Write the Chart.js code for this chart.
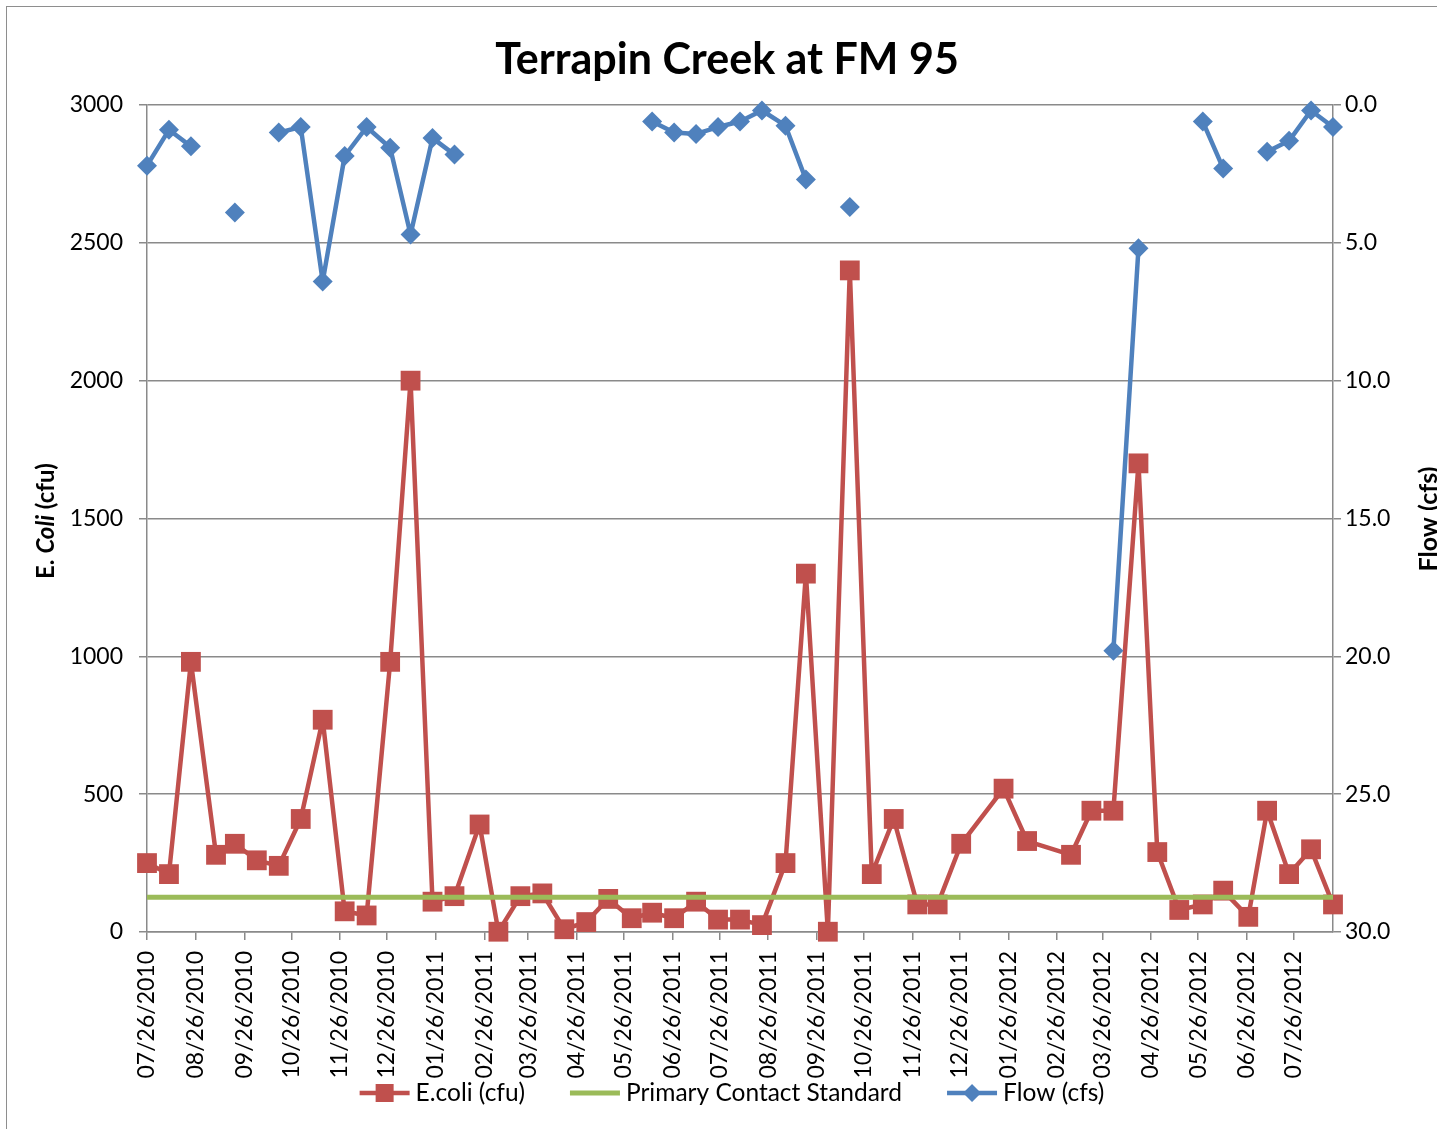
<!DOCTYPE html>
<html>
<head>
<meta charset="utf-8">
<script src="https://cdn.jsdelivr.net/npm/chart.js@4.4.0/dist/chart.umd.min.js"></script>
<style>
  html, body { margin: 0; padding: 0; background: #fff; overflow: hidden; }
  #frame { position: absolute; left: 6px; top: 6px; width: 1500px; height: 1200px; border: 1.5px solid #8e8e8e; }
  #wrap { position: absolute; left: 0; top: 0; width: 1437px; height: 1129px; }
</style>
</head>
<body>
<div id="frame"></div>
<div id="wrap"><canvas id="chart" width="1437" height="1129"></canvas></div>
<script>
// sampling dates (mm/dd/yyyy)
const sampleDates = [
  '2010-07-26', '2010-08-09', '2010-08-23', '2010-09-08', '2010-09-20', '2010-10-04', '2010-10-18',
  '2010-11-01', '2010-11-15', '2010-11-29', '2010-12-13', '2010-12-28', '2011-01-10', '2011-01-24',
  '2011-02-07', '2011-02-23', '2011-03-07', '2011-03-21', '2011-04-04', '2011-04-18', '2011-05-02',
  '2011-05-16', '2011-05-31', '2011-06-13', '2011-06-27', '2011-07-11', '2011-07-25', '2011-08-08',
  '2011-08-22', '2011-09-06', '2011-09-19', '2011-10-03', '2011-10-17', '2011-10-31', '2011-11-14',
  '2011-11-29', '2011-12-12', '2011-12-27', '2012-01-23', '2012-02-07', '2012-03-06', '2012-03-19',
  '2012-04-02', '2012-04-18', '2012-04-30', '2012-05-14', '2012-05-29', '2012-06-11', '2012-06-27',
  '2012-07-09', '2012-07-23', '2012-08-06', '2012-08-20'
];

// E. coli (cfu)
const ecoli = [
  250, 210, 980, 280, 320, 260, 240,
  410, 770, 75, 60, 980, 2000, 110,
  130, 390, 1, 130, 140, 10, 36,
  120, 50, 70, 50, 110, 45, 45,
  25, 250, 1300, 1, 2400, 210, 410,
  100, 100, 320, 520, 330, 280, 440,
  440, 1700, 290, 80, 100, 150, 55,
  440, 210, 300, 100
];

// Flow (cfs), null where not measured
const flow = [
  2.2, 0.9, 1.5, null, 3.9, null, 1.0,
  0.8, 6.4, 1.85, 0.8, 1.55, 4.7, 1.2,
  1.8, null, null, null, null, null, null,
  null, null, 0.6, 1.0, 1.05, 0.8, 0.6,
  0.2, 0.75, 2.7, null, 3.7, null, null,
  null, null, null, null, null, null, null,
  19.8, 5.2, null, null, 0.6, 2.3, null,
  1.7, 1.3, 0.2, 0.8
];

const standardValue = 126;   // primary contact recreation standard
const ecoliTicks = [0, 500, 1000, 1500, 2000, 2500, 3000];
const flowTicks = [0, 5, 10, 15, 20, 25, 30];

const FONT = 'Lato, "Open Sans", sans-serif';
const RED = '#C0504D', GREEN = '#9BBB59', BLUE = '#4F81BD', GRID = '#8a8a8a';

const DAY = 86400000;
const origin = Date.UTC(2010, 6, 26);
const dayOf = s => {
  const [y, m, d] = s.split('-').map(Number);
  return (Date.UTC(y, m - 1, d) - origin) / DAY;
};
const labelOf = v => {
  const d = new Date(origin + Math.round(v) * DAY);
  const p = n => String(n).padStart(2, '0');
  return p(d.getUTCMonth() + 1) + '/' + p(d.getUTCDate()) + '/' + d.getUTCFullYear();
};

const days = sampleDates.map(dayOf);
const lastDay = days[days.length - 1];
// monthly ticks on the 26th
const monthTicks = [];
for (let i = 0; ; i++) {
  const v = (Date.UTC(2010, 6 + i, 26) - origin) / DAY;
  if (v > lastDay) break;
  monthTicks.push(v);
}

const decorations = {
  id: 'decorations',
  afterDraw(chart) {
    const ctx = chart.ctx;
    ctx.save();
    ctx.fillStyle = '#000';
    ctx.textBaseline = 'middle';

    // title
    ctx.font = 'bold 43px ' + FONT;
    ctx.textAlign = 'center';
    ctx.fillText('Terrapin Creek at FM 95', 727, 60);

    // left axis title with italic "Coli"
    const parts = [['bold ', 'E. '], ['italic bold ', 'Coli'], ['bold ', ' (cfu)']];
    let total = 0;
    parts.forEach(p => { ctx.font = p[0] + '24px ' + FONT; total += ctx.measureText(p[1]).width; });
    ctx.save();
    ctx.translate(46, 521);
    ctx.rotate(-Math.PI / 2);
    ctx.textAlign = 'left';
    let x = -total / 2;
    parts.forEach(p => {
      ctx.font = p[0] + '24px ' + FONT;
      ctx.fillText(p[1], x, 0);
      x += ctx.measureText(p[1]).width;
    });
    ctx.restore();

    // right axis title
    ctx.save();
    ctx.translate(1429, 519);
    ctx.rotate(-Math.PI / 2);
    ctx.textAlign = 'center';
    ctx.font = 'bold 25px ' + FONT;
    ctx.fillText('Flow (cfs)', 0, 0);
    ctx.restore();

    // legend
    const items = [
      { text: 'E.coli (cfu)', color: RED, marker: 'rect' },
      { text: 'Primary Contact Standard', color: GREEN, marker: null },
      { text: 'Flow (cfs)', color: BLUE, marker: 'diamond' }
    ];
    ctx.font = '24.5px ' + FONT;
    const sym = 50, gapText = 6, gapItem = 45;
    let width = 0;
    items.forEach((it, i) => {
      it.w = ctx.measureText(it.text).width;
      width += sym + gapText + it.w + (i ? gapItem : 0);
    });
    let lx = 732 - width / 2;
    const ly = 1093;
    ctx.textAlign = 'left';
    items.forEach(it => {
      ctx.strokeStyle = it.color;
      ctx.fillStyle = it.color;
      ctx.lineWidth = it.marker ? 4.5 : 5;
      ctx.beginPath();
      ctx.moveTo(lx, ly);
      ctx.lineTo(lx + sym, ly);
      ctx.stroke();
      const cx = lx + sym / 2;
      if (it.marker === 'rect') {
        ctx.fillRect(cx - 9, ly - 9, 18, 18);
      } else if (it.marker === 'diamond') {
        ctx.beginPath();
        ctx.moveTo(cx, ly - 9); ctx.lineTo(cx + 9, ly);
        ctx.lineTo(cx, ly + 9); ctx.lineTo(cx - 9, ly);
        ctx.closePath(); ctx.fill();
      }
      ctx.fillStyle = '#000';
      ctx.fillText(it.text, lx + sym + gapText, ly);
      lx += sym + gapText + it.w + gapItem;
    });
    ctx.restore();
  }
};

new Chart(document.getElementById('chart'), {
  type: 'line',
  data: {
    datasets: [
      {
        label: 'E.coli (cfu)',
        data: days.map((d, i) => ({ x: d, y: ecoli[i] })),
        yAxisID: 'y',
        borderColor: RED,
        backgroundColor: RED,
        borderWidth: 4.5,
        borderJoinStyle: 'round',
        pointStyle: 'rect',
        pointRadius: 14,
        pointBorderWidth: 0,
        clip: false,
        order: 3
      },
      {
        label: 'Primary Contact Standard',
        data: [{ x: 0, y: standardValue }, { x: lastDay, y: standardValue }],
        yAxisID: 'y',
        borderColor: GREEN,
        backgroundColor: GREEN,
        borderWidth: 5,
        pointRadius: 0,
        clip: false,
        order: 2
      },
      {
        label: 'Flow (cfs)',
        data: days.map((d, i) => ({ x: d, y: flow[i] })),
        yAxisID: 'y2',
        borderColor: BLUE,
        backgroundColor: BLUE,
        borderWidth: 4.5,
        borderJoinStyle: 'round',
        pointStyle: 'rectRot',
        pointRadius: 10,
        pointBorderWidth: 0,
        spanGaps: false,
        clip: false,
        order: 1
      }
    ]
  },
  options: {
    responsive: false,
    animation: false,
    devicePixelRatio: 1,
    layout: { padding: { top: 105, left: 0, right: 0, bottom: 0 } },
    plugins: {
      legend: { display: false },
      title: { display: false },
      tooltip: { enabled: false }
    },
    scales: {
      x: {
        type: 'linear',
        min: 0,
        max: lastDay,
        afterBuildTicks: s => { s.ticks = monthTicks.map(v => ({ value: v })); },
        afterFit: s => { s.height = 197; },
        ticks: {
          autoSkip: false,
          minRotation: 90,
          maxRotation: 90,
          padding: 11,
          color: '#000',
          font: { family: FONT, size: 23 },
          callback: v => labelOf(v)
        },
        grid: { drawOnChartArea: false, drawTicks: true, tickLength: 8, color: GRID, lineWidth: 1.5 },
        border: { color: GRID, width: 1.5 }
      },
      y: {
        position: 'left',
        min: 0,
        max: 3000,
        afterBuildTicks: s => { s.ticks = ecoliTicks.map(v => ({ value: v })); },
        afterFit: s => { s.width = 147; },
        ticks: {
          padding: 16,
          color: '#000',
          font: { family: FONT, size: 23 },
          callback: v => String(v)
        },
        grid: { color: GRID, lineWidth: 1.5, tickLength: 8 },
        border: { color: GRID, width: 1.5 }
      },
      y2: {
        position: 'right',
        reverse: true,
        min: 0,
        max: 30,
        afterBuildTicks: s => { s.ticks = flowTicks.map(v => ({ value: v })); },
        afterFit: s => { s.width = 104; },
        ticks: {
          padding: 4,
          color: '#000',
          font: { family: FONT, size: 23 },
          callback: v => v.toFixed(1)
        },
        grid: { drawOnChartArea: false, color: GRID, lineWidth: 1.5, tickLength: 8 },
        border: { color: GRID, width: 1.5 }
      }
    }
  },
  plugins: [decorations]
});
</script>
</body>
</html>
